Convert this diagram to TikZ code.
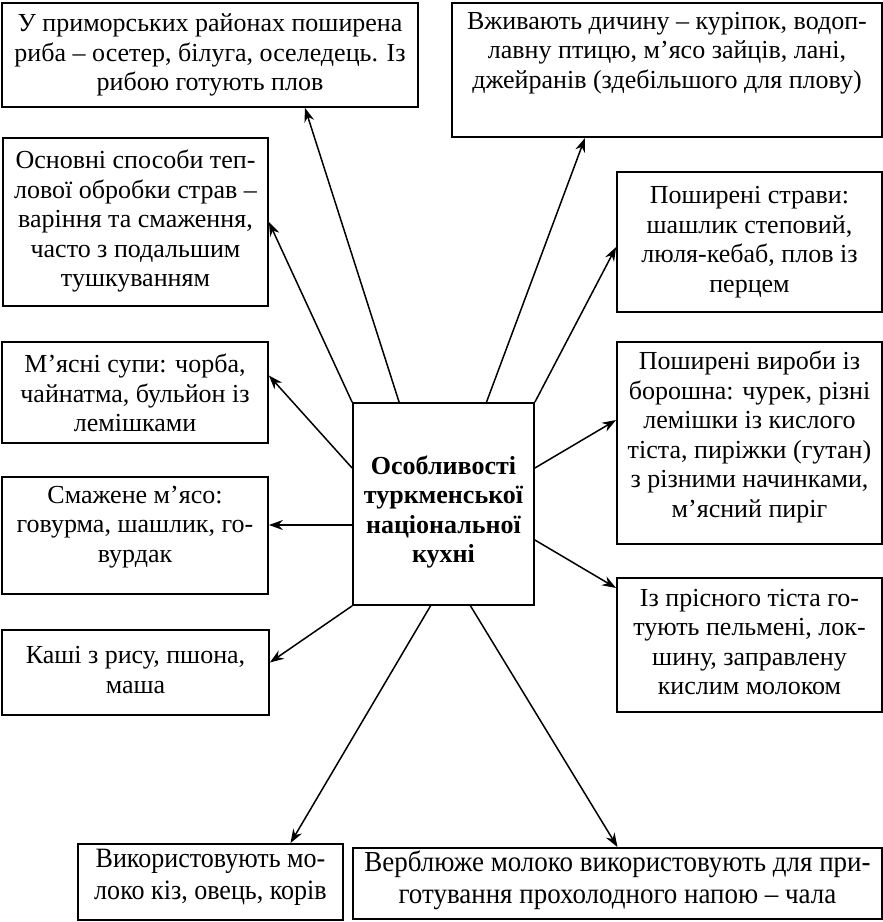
\documentclass[tikz,border=0pt]{standalone}
\usepackage{fontspec}
\setmainfont{Liberation Serif}
\newfontfamily\condfont[FakeStretch=0.93]{Liberation Serif}
\usetikzlibrary{arrows.meta,calc}
\begin{document}
\begin{tikzpicture}[x=1pt,y=-1pt,
  bx/.style={draw,line width=1.8pt,inner sep=0pt,fill=none},
  txt/.style={align=center,inner sep=0pt,font=\fontsize{26}{29.5}\selectfont},
  ctxt/.style={align=center,inner sep=0pt,font=\condfont\fontsize{29}{32}\selectfont},
  conn/.style={line width=1.5pt,-{Stealth[length=14pt,width=10pt]}}]
\useasboundingbox (0,0) rectangle (883,922);
% boxes
\node[bx,minimum width=416pt,minimum height=104pt] (a) at (210,55) {};
\node[txt] (at) at (210,55) {У приморських районах поширена\\риба – осетер, білуга, оселедець. Із\\рибою готують плов};
\node[bx,minimum width=265pt,minimum height=168pt] (b) at (135.5,222) {};
\node[txt] (bt) at (135.5,221) {Основні способи теп-\\лової обробки страв –\\варіння та смаження,\\часто з подальшим\\тушкуванням};
\node[bx,minimum width=430pt,minimum height=134pt] (c) at (667,70) {};
\node[txt] (ct) at (667,53) {Вживають дичину – куріпок, водоп-\\лавну птицю, м’ясо зайців, лані,\\джейранів (здебільшого для плову)};
\node[bx,minimum width=265pt,minimum height=140pt] (d) at (749.5,242) {};
\node[txt] (dt) at (749.5,242) {Поширені страви:\\шашлик степовий,\\люля-кебаб, плов із\\перцем};
\node[bx,minimum width=266pt,minimum height=101pt] (e) at (135,392.5) {};
\node[txt] (et) at (135,393) {М’ясні супи: чорба,\\чайнатма, бульйон із\\лемішками};
\node[bx,minimum width=266pt,minimum height=117pt] (f) at (135,535.5) {};
\node[txt] (ft) at (135,527) {Смажене м’ясо:\\говурма, шашлик, го-\\вурдак};
\node[bx,minimum width=267pt,minimum height=85pt] (g) at (135.5,672.5) {};
\node[txt] (gt) at (135.5,670) {Каші з рису, пшона,\\маша};
\node[bx,minimum width=265pt,minimum height=202pt] (j) at (749.5,443) {};
\node[txt] (jt) at (749.5,437) {Поширені вироби із\\борошна: чурек, різні\\лемішки із кислого\\тіста, пиріжки (гутан)\\з різними начинками,\\м’ясний пиріг};
\node[bx,minimum width=265pt,minimum height=134pt] (k) at (749.5,645) {};
\node[txt] (kt) at (749.5,642) {Із прісного тіста го-\\тують пельмені, лок-\\шину, заправлену\\кислим молоком};
\node[bx,minimum width=265pt,minimum height=76pt] (h) at (210.5,882) {};
\node[ctxt,font=\condfont\fontsize{28}{32}\selectfont] (ht) at (210.5,877) {Використовують мо-\\локо кіз, овець, корів};
\node[bx,minimum width=529pt,minimum height=71pt] (i) at (617.5,883.5) {};
\node[ctxt] (it) at (617.5,880) {Верблюже молоко використовують для при-\\готування прохолодного напою – чала};
\node[bx,minimum width=181pt,minimum height=202pt] (ctr) at (443.5,504) {};
\node[txt,font=\bfseries\fontsize{26}{29.5}\selectfont] (ctrt) at (443.5,512) {Особливості\\туркменської\\національної\\кухні};
% connectors
\draw[conn] ([xshift=47pt]ctr.north west) -- ([xshift=95pt]a.south);
\draw[conn] (ctr.north west) -- (b.east);
\draw[conn] ([xshift=43pt]ctr.north) -- ([xshift=-82pt]c.south);
\draw[conn] (ctr.north east) -- ([yshift=-5pt]d.west);
\draw[conn] ([yshift=36pt]ctr.west) -- ([yshift=17pt]e.east);
\coordinate (fs) at ([yshift=-21pt]ctr.west);
\draw[conn] (fs) -- (f.east |- fs);
\draw[conn] (ctr.south west) -- ([yshift=10pt]g.east);
\draw[conn] ([yshift=36pt]ctr.east) -- ([yshift=23pt]j.west);
\draw[conn] ([yshift=-36pt]ctr.east) -- ([yshift=57pt]k.west);
\draw[conn] ([xshift=-13pt]ctr.south) -- ([xshift=80pt]h.north);
\draw[conn] ([xshift=27pt]ctr.south) -- (i.north);
\end{tikzpicture}
\end{document}
